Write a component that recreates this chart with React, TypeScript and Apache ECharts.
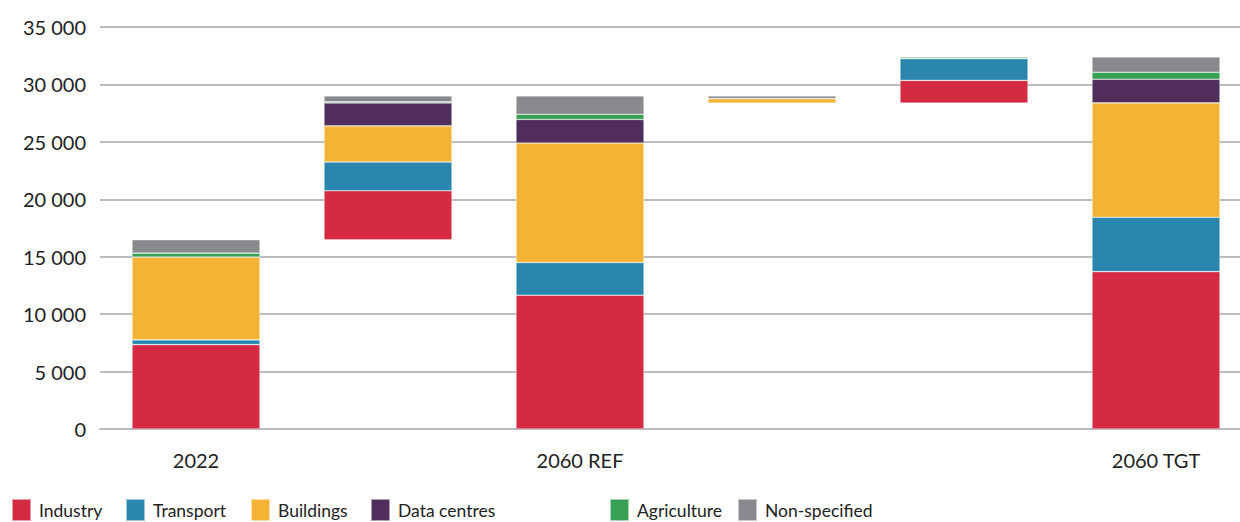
import React, { useEffect, useRef } from "react";
import * as echarts from "echarts";

const categories = ["2022", "step-a", "2060 REF", "step-b", "step-c", "2060 TGT"];
const axisLabels = ["2022", "", "2060 REF", "", "", "2060 TGT"];
const isTotal = [true, false, true, false, false, true];

const sectorNames = ["Industry", "Transport", "Buildings", "Data centres", "Agriculture", "Non-specified"];
const sectorColors = ["#d52b42", "#2a86ae", "#f4b335", "#512d5c", "#37a055", "#88898c"];

const industry = [7350, 4260, 11650, 0, 1980, 13700];
const transport = [410, 2500, 2850, 0, 1900, 4730];
const buildings = [7220, 3150, 10400, -400, 0, 9960];
const dataCentres = [0, 2000, 2050, 0, 0, 2060];
const agriculture = [330, 100, 450, 0, 140, 610];
const nonSpecified = [1170, 510, 1600, -230, 0, 1340];

const yTicks = { min: 0, max: 35000, interval: 5000 };

const FONT = "Lato, 'Open Sans', sans-serif";
const legendLefts = [11, 125, 250, 370, 609, 737];

export default function App() {
  const ref = useRef<HTMLDivElement>(null);

  useEffect(() => {
    document.body.style.margin = "0";
    if (!ref.current) return;
    const chart = echarts.init(ref.current, undefined, { renderer: "svg" });

    const sectors = [industry, transport, buildings, dataCentres, agriculture, nonSpecified];

    // waterfall bases
    const base: number[] = [];
    let running = 0;
    categories.forEach((_, i) => {
      if (isTotal[i]) {
        base.push(0);
        running = sectors.reduce((s, arr) => s + arr[i], 0);
      } else {
        const neg = sectors.reduce((s, arr) => s + Math.min(0, arr[i]), 0);
        const pos = sectors.reduce((s, arr) => s + Math.max(0, arr[i]), 0);
        base.push(running + neg);
        running = running + neg + pos;
      }
    });

    const series: any[] = [
      {
        name: "base",
        type: "bar",
        stack: "total",
        barWidth: 128,
        silent: true,
        itemStyle: { color: "transparent", borderWidth: 0 },
        data: base,
      },
      ...sectors.map((arr, k) => ({
        name: sectorNames[k],
        type: "bar",
        stack: "total",
        barWidth: 128,
        itemStyle: {
          color: sectorColors[k],
          borderColor: "rgba(255,255,255,0.55)",
          borderWidth: 0.6,
        },
        data: arr.map((v) => Math.abs(v)),
      })),
    ];

    const legends = sectorNames.map((name, k) => ({
      data: [name],
      left: legendLefts[k],
      top: 498,
      itemWidth: 19,
      itemHeight: 22,
      icon: "rect",
      padding: 0,
      textStyle: { fontFamily: FONT, fontSize: 17.5, color: "#222", padding: [0, 0, 0, 3] },
    }));

    chart.setOption({
      animation: false,
      textStyle: { fontFamily: FONT },
      grid: { left: 100, right: 0, top: 27, bottom: 93, containLabel: false },
      legend: legends,
      xAxis: {
        type: "category",
        data: categories,
        axisTick: { show: false },
        axisLine: { show: true, lineStyle: { color: "#bdbdc1", width: 2 } },
        axisLabel: {
          interval: 0,
          margin: 20,
          fontSize: 20,
          lineHeight: 22,
          color: "#222",
          fontFamily: FONT,
          formatter: (_v: string, idx: number) => axisLabels[idx],
        },
      },
      yAxis: {
        type: "value",
        min: yTicks.min,
        max: yTicks.max,
        interval: yTicks.interval,
        axisLine: { show: false },
        axisTick: { show: false },
        splitLine: { lineStyle: { color: "#bdbdc1", width: 2 } },
        axisLabel: {
          margin: 14,
          fontSize: 20,
          color: "#222",
          fontFamily: FONT,
          formatter: (v: number) => String(v).replace(/\B(?=(\d{3})+(?!\d))/g, " "),
        },
      },
      series,
    });

    return () => chart.dispose();
  }, []);

  return (
    <div style={{ width: 1240, height: 522, overflow: "hidden" }}>
      <div ref={ref} style={{ width: 1252, height: 522 }} />
    </div>
  );
}
